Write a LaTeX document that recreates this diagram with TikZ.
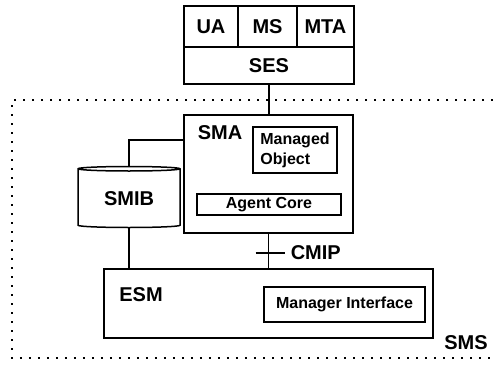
\documentclass[tikz,border=0pt]{standalone}
\usepackage{fontspec}
\setmainfont{Liberation Sans}
\usepackage{tikz}
\usetikzlibrary{shapes.geometric}

\begin{document}
\begin{tikzpicture}[x=1pt,y=-1pt,line width=1.5pt,
  bigfont/.style={font=\fontsize{20}{22}\selectfont\bfseries},
  smallfont/.style={font=\fontsize{16}{20}\selectfont\bfseries},
  blk/.style={draw,rectangle,inner sep=0pt}]
\useasboundingbox (0,0) rectangle (493,367);
% frame of the SMS
\draw[line width=1.9pt,dash pattern=on 1.9pt off 7.1pt]
  (493,100) -- (12,100) -- (12,358) -- (493,358);
% stack on top
\node[blk,bigfont,minimum width=54pt,minimum height=41pt] (ua) at (211,26.5) {UA};
\node[blk,bigfont,minimum width=59pt,minimum height=41pt] (ms) at (267.5,26.5) {MS};
\node[blk,bigfont,minimum width=57pt,minimum height=41pt] (mta) at (325.5,26.5) {MTA};
\node[blk,bigfont,minimum width=170pt,minimum height=37pt] (ses) at (269,65.5) {SES};
% agent
\node[blk,minimum width=169pt,minimum height=118pt] (sma) at (268.5,174) {};
\node[bigfont,inner sep=0pt] (smalabel) at (220,133) {SMA};
\node[blk,smallfont,align=left,minimum width=84pt,minimum height=46pt] (mo) at (295,150)
  {Managed\\Object};
\node[blk,smallfont,minimum width=144pt,minimum height=21pt] (ac) at (269,204.5) {Agent Core};
% database
\node[draw,cylinder,shape border rotate=90,aspect=0.09,bigfont,inner sep=0pt,
  minimum width=102pt,minimum height=61pt] (smib) at (129,198.5) {SMIB};
% manager
\node[blk,minimum width=329pt,minimum height=69pt] (esm) at (268.5,303.5) {};
\node[bigfont,inner sep=0pt] (esmlabel) at (141,295) {ESM};
\node[blk,smallfont,minimum width=161pt,minimum height=35pt] (mi) at (344.5,304.5)
  {Manager Interface};
\node[bigfont,inner sep=0pt] (smslabel) at (466,343) {SMS};
% links
\coordinate (smaport) at (184,140);
\draw (ses.south) -- (ses.south |- sma.north);
\draw (smaport) -| (smib.north);
\draw (smib.south) -- (smib.south |- esm.north);
\draw (sma.south) -- (sma.south |- esm.north);
\coordinate (cmiptick) at (268.5,253);
\draw (cmiptick) +(-13,0) -- +(16,0);
\node[bigfont,inner sep=0pt,anchor=west] (cmiplabel) at (290,253) {CMIP};
\end{tikzpicture}
\end{document}
